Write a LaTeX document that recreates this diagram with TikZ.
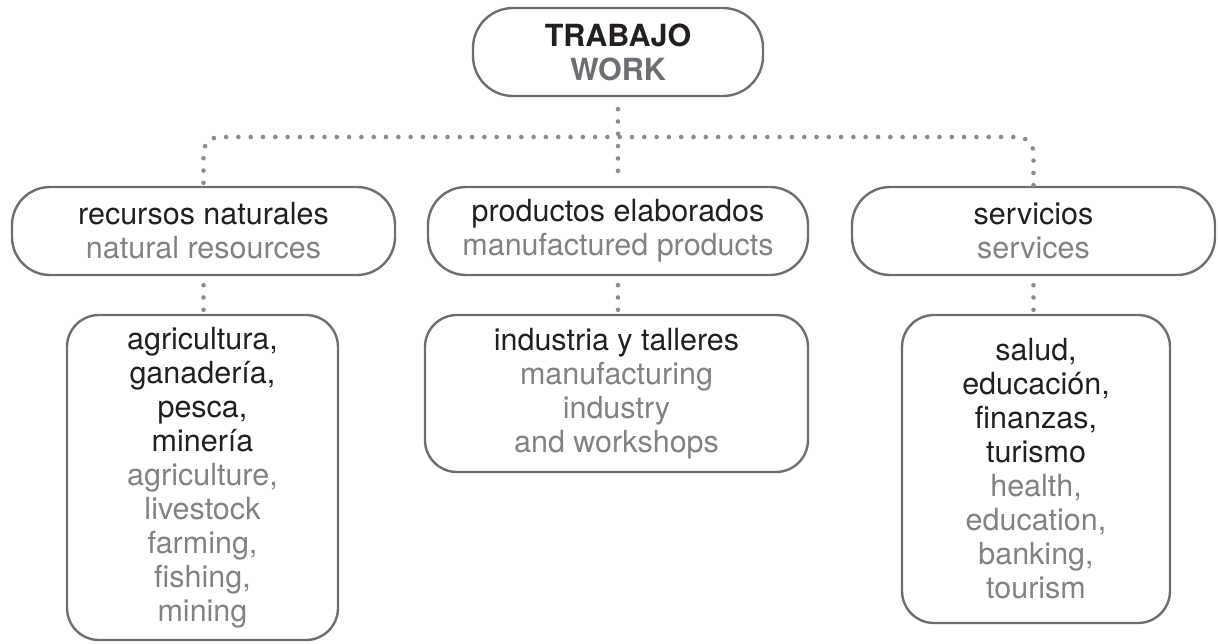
\documentclass[tikz,border=0pt]{standalone}
\usepackage{fontspec}
\setmainfont{TeX Gyre Heros}
\definecolor{ink}{HTML}{231F20}
\definecolor{soft}{HTML}{808285}
\definecolor{mid}{HTML}{6D6E71}
\definecolor{frame}{HTML}{6D6E71}
\definecolor{dotc}{HTML}{8A8C8F}
\tikzset{
  box/.style={draw=frame, line width=2.4pt, align=center, inner sep=0pt,
    font=\fontsize{30.5}{34}\selectfont, text=ink},
  dots/.style={draw=dotc, line width=4.6pt, line cap=round, dash pattern=on 0pt off 12.3pt},
}
\begin{document}
\begin{tikzpicture}[x=1pt,y=-1pt]
\useasboundingbox (0,0) rectangle (1218,643);
\node[box, rounded corners=40pt, minimum width=290pt, minimum height=88pt] (top) at (618,52)
  {\textbf{TRABAJO}\\\textcolor{mid}{\textbf{WORK}}};
\node[box, rounded corners=38pt, minimum width=383pt, minimum height=88pt] (m1) at (203.5,231)
  {recursos naturales\\\textcolor{soft}{natural resources}};
\node[box, rounded corners=38pt, minimum width=380pt, minimum height=88pt] (m2) at (618,231)
  {productos elaborados\\\textcolor{soft}{manufactured products}};
\node[box, rounded corners=38pt, minimum width=363pt, minimum height=88pt] (m3) at (1033.5,231)
  {servicios\\\textcolor{soft}{services}};
\node[box, rounded corners=32pt, minimum width=271pt, minimum height=325pt] (b1) at (202.5,477.5)
  {agricultura,\\ganadería,\\pesca,\\minería\\\textcolor{soft}{agriculture,}\\\textcolor{soft}{livestock}\\\textcolor{soft}{farming,}\\\textcolor{soft}{fishing,}\\\textcolor{soft}{mining}};
\node[box, rounded corners=32pt, minimum width=383pt, minimum height=157pt] (b2) at (616.5,393.5)
  {industria y talleres\\\textcolor{soft}{manufacturing}\\\textcolor{soft}{industry}\\\textcolor{soft}{and workshops}};
\node[box, rounded corners=32pt, minimum width=268pt, minimum height=308pt] (b3) at (1036,469)
  {salud,\\educación,\\finanzas,\\turismo\\\textcolor{soft}{health,}\\\textcolor{soft}{education,}\\\textcolor{soft}{banking,}\\\textcolor{soft}{tourism}};
\coordinate (hub) at (618,137);
\draw[dots, shorten <=12pt, shorten >=3pt] (top.south) -- (m2.north);
\draw[dots, rounded corners=16pt, shorten <=3pt] (m1.north) |- (hub) -| (m3.north);
\draw[dots, shorten <=9pt, shorten >=4pt] (m1.south) -- (m1.south |- b1.north);
\draw[dots, shorten <=9pt, shorten >=4pt] (m2.south) -- (m2.south |- b2.north);
\draw[dots, shorten <=9pt, shorten >=4pt] (m3.south) -- (m3.south |- b3.north);
\end{tikzpicture}
\end{document}
